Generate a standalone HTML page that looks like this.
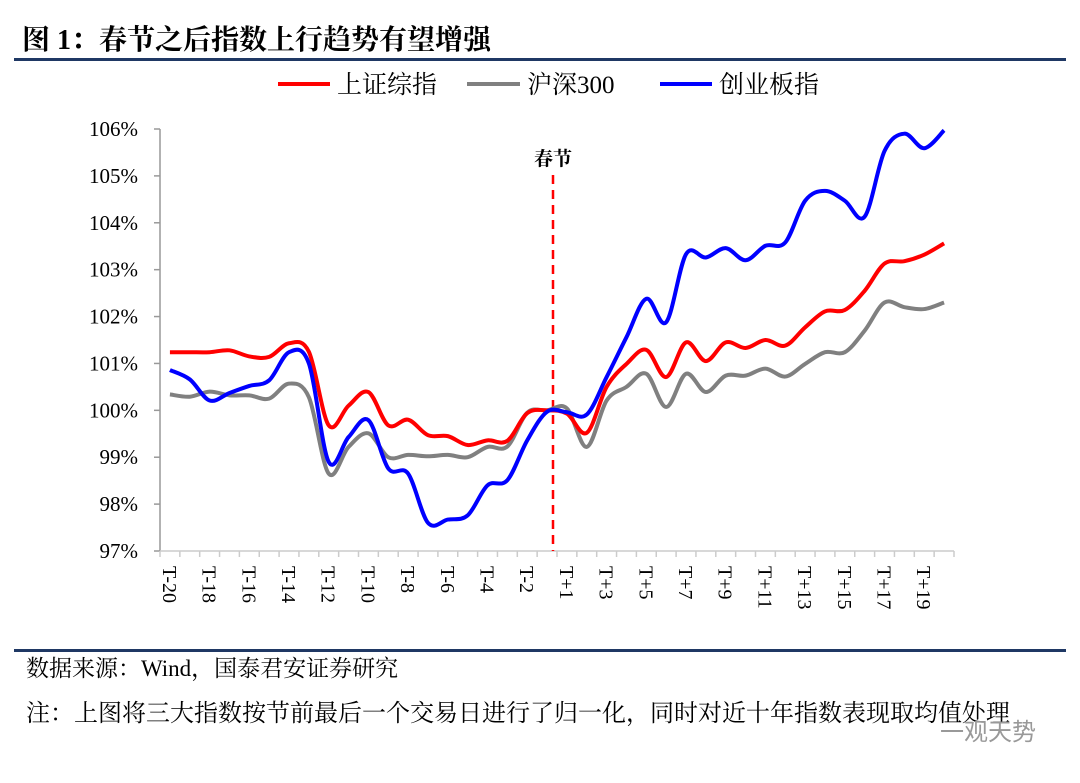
<!DOCTYPE html>
<html><head><meta charset="utf-8"><style>
body{margin:0;background:#fff;width:1080px;height:778px;overflow:hidden;font-family:"Liberation Serif","Noto Serif CJK SC",serif;}
</style></head><body>
<svg width="1080" height="778" viewBox="0 0 1080 778" xmlns="http://www.w3.org/2000/svg" id="svg" style="font-family:'Liberation Serif','Noto Serif CJK SC',serif">
<text x="22" y="49" font-size="28" font-weight="bold" fill="#000">图 1：春节之后指数上行趋势有望增强</text>
<rect x="14" y="58" width="1052" height="3" fill="#1f3864"/>
<g font-size="25" fill="#000">
<line x1="278" y1="84" x2="330" y2="84" stroke="#ff0000" stroke-width="4"/>
<text x="337" y="93">上证综指</text>
<line x1="467" y1="84" x2="520" y2="84" stroke="#808080" stroke-width="4"/>
<text x="527" y="93">沪深300</text>
<line x1="660" y1="84" x2="712" y2="84" stroke="#0000ff" stroke-width="4"/>
<text x="719" y="93">创业板指</text>
</g>
<g id="axes"></g>
<g id="series"></g>
<rect x="14" y="649" width="1052" height="3" fill="#1f3864"/>
<text x="26" y="676" font-size="23" fill="#000">数据来源：Wind，国泰君安证券研究</text>
<text x="26" y="721" font-size="24" fill="#000">注：上图将三大指数按节前最后一个交易日进行了归一化，同时对近十年指数表现取均值处理</text>
<text x="940" y="740" font-size="24" fill="#999" font-family="'Liberation Sans','Noto Sans CJK SC',sans-serif">一观天势</text>
</svg>
<script>
const categories=["T-20","T-19","T-18","T-17","T-16","T-15","T-14","T-13","T-12","T-11","T-10","T-9","T-8","T-7","T-6","T-5","T-4","T-3","T-2","T-1","T+1","T+2","T+3","T+4","T+5","T+6","T+7","T+8","T+9","T+10","T+11","T+12","T+13","T+14","T+15","T+16","T+17","T+18","T+19","T+20"];
const shValues=[101.24,101.24,101.24,101.28,101.15,101.14,101.43,101.25,99.68,100.1,100.39,99.68,99.8,99.47,99.45,99.26,99.36,99.35,99.94,100,99.93,99.52,100.5,100.99,101.29,100.71,101.45,101.05,101.45,101.33,101.5,101.38,101.77,102.11,102.14,102.55,103.13,103.18,103.32,103.56];
const hsValues=[100.34,100.29,100.4,100.32,100.32,100.25,100.57,100.28,98.65,99.22,99.51,99.0,99.05,99.02,99.05,99.0,99.22,99.23,99.95,100,100.04,99.22,100.21,100.5,100.78,100.07,100.78,100.39,100.74,100.74,100.89,100.72,100.99,101.24,101.24,101.7,102.3,102.2,102.16,102.3];
const cybValues=[100.86,100.66,100.21,100.37,100.52,100.64,101.24,101.0,98.9,99.43,99.79,98.76,98.65,97.6,97.67,97.76,98.4,98.51,99.36,99.97,99.96,99.91,100.71,101.56,102.38,101.88,103.33,103.26,103.46,103.2,103.51,103.58,104.47,104.68,104.47,104.13,105.53,105.9,105.59,105.97];
const yTicks=[97,98,99,100,101,102,103,104,105,106];
const holidayLabel="春节";

const NS="http://www.w3.org/2000/svg";
const X0=160,BW=19.85,YB=551,YT=129,YMIN=97,YMAX=106;
function xs(i){return X0+BW*(i+0.5);}
function ys(v){return YB-(v-YMIN)/(YMAX-YMIN)*(YB-YT);}
function mk(tag,attrs,parent){const e=document.createElementNS(NS,tag);for(const k in attrs)e.setAttribute(k,attrs[k]);parent.appendChild(e);return e;}
const axes=document.getElementById('axes'),ser=document.getElementById('series');
let a=mk('line',{x1:X0,y1:YT,x2:X0,y2:YB,stroke:'#999','stroke-width':1.5},axes);


let b=mk('line',{x1:X0,y1:YB,x2:X0+BW*categories.length,y2:YB,stroke:'#ccc','stroke-width':1.5},axes);


yTicks.forEach(v=>{
 const t=mk('line',{x1:X0-6,y1:ys(v),x2:X0,y2:ys(v),stroke:'#999','stroke-width':1.5},axes);
 
 
 const l=mk('text',{x:X0-22,y:ys(v)+7,'font-size':21,'text-anchor':'end',fill:'#000'},axes);
 l.textContent=v+'%';
 
 
});
for(let i=0;i<=categories.length;i++){
 const t=mk('line',{x1:X0+BW*i,y1:YB,x2:X0+BW*i,y2:YB+6,stroke:'#ccc','stroke-width':1.5},axes);
 
 
}
categories.forEach((c,i)=>{
 if(i%2!==0)return;
 const x=xs(i)-7,y=566;
 const l=mk('text',{x:x,y:y,'font-size':20,fill:'#000',transform:`rotate(90 ${x} ${y})`},axes);
 l.textContent=c;
 
 
});
const hx=(xs(19)+xs(20))/2-4;
const d=mk('line',{x1:hx,y1:175,x2:hx,y2:YB,stroke:'#ff0000','stroke-width':2.5,'stroke-dasharray':'9,6'},axes);


const ht=mk('text',{x:hx,y:165,'font-size':19,'font-weight':'bold','text-anchor':'middle',fill:'#000'},axes);
ht.textContent=holidayLabel;


function smooth(vals){
 const p=vals.map((v,i)=>[xs(i),ys(v)]);
 let s=`M${p[0][0]},${p[0][1]}`;
 for(let i=0;i<p.length-1;i++){
  const p0=p[i-1]||p[i],p1=p[i],p2=p[i+1],p3=p[i+2]||p2;
  const c1=[p1[0]+(p2[0]-p0[0])/6,p1[1]+(p2[1]-p0[1])/6];
  const c2=[p2[0]-(p3[0]-p1[0])/6,p2[1]-(p3[1]-p1[1])/6];
  s+=`C${c1[0]},${c1[1]} ${c2[0]},${c2[1]} ${p2[0]},${p2[1]}`;
 }
 return s;
}
const h=mk('path',{d:smooth(hsValues),fill:'none',stroke:'#808080','stroke-width':4,'stroke-linejoin':'round'},ser);


const r=mk('path',{d:smooth(shValues),fill:'none',stroke:'#ff0000','stroke-width':4,'stroke-linejoin':'round'},ser);


const bl=mk('path',{d:smooth(cybValues),fill:'none',stroke:'#0000ff','stroke-width':4,'stroke-linejoin':'round'},ser);


</script>
</body></html>
